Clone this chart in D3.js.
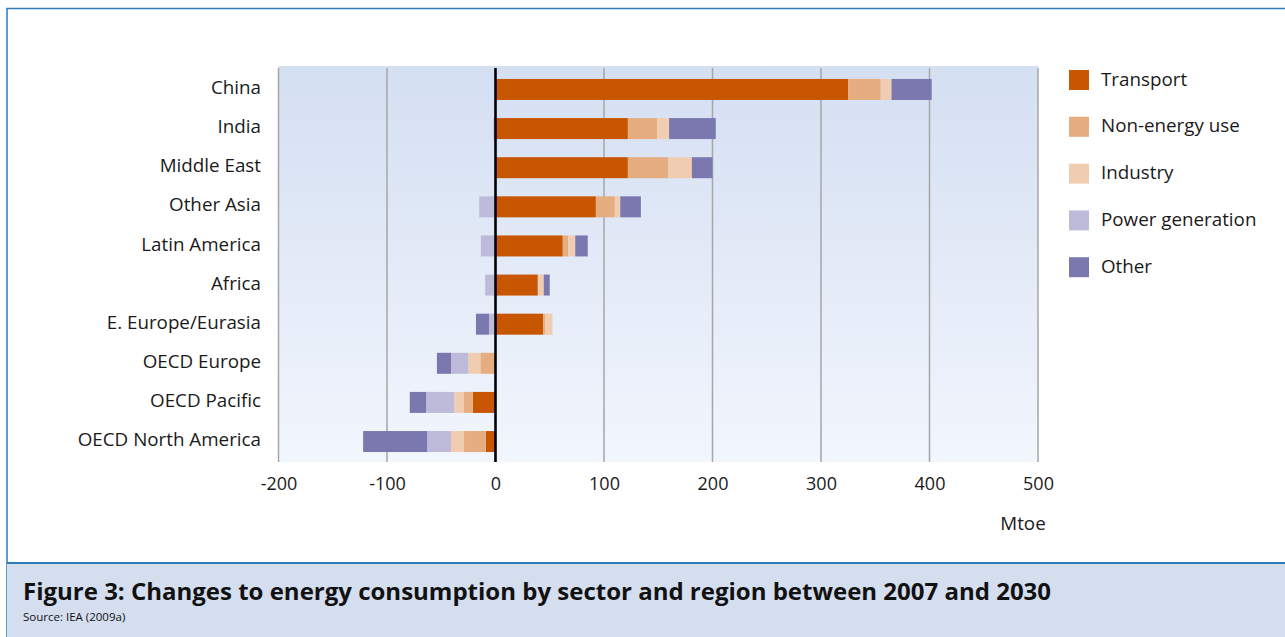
<!DOCTYPE html>
<html>
<head>
<meta charset="utf-8">
<script src="https://cdn.jsdelivr.net/npm/d3@7"></script>
<style>
  html, body { margin: 0; padding: 0; background: #fff; }
  svg { display: block; font-family: "Open Sans", "Noto Sans", sans-serif; }
</style>
</head>
<body>
<svg id="chart" width="1285" height="637"></svg>
<script>
// ---- data ----
const regions = ["China", "India", "Middle East", "Other Asia", "Latin America", "Africa",
  "E. Europe/Eurasia", "OECD Europe", "OECD Pacific", "OECD North America"];
const sectors = ["Transport", "Non-energy use", "Industry", "Power generation", "Other"];
const transport     = [325, 122, 122, 92.5, 62, 39, 44, 0, -21, -9];
const nonEnergy     = [30, 27, 37, 17.5, 5, 0, 2, -14, -8, -20];
const industry      = [10, 11, 22, 5, 6.5, 5.5, 6.5, -11, -9, -12];
const powerGen      = [0, -2, 0, -15, -13.5, -9.5, -6, -16, -26, -22];
const other         = [37, 43, 19, 19, 11.5, 5.5, -12, -13, -15, -59];
const xTicks = [-200, -100, 0, 100, 200, 300, 400, 500];
const xTickLabels = ["-200", "-100", "0", "100", "200", "300", "400", "500"];
const sectorColors = ["#c85500", "#e5ad80", "#f0cdb0", "#bdbbd9", "#7b78b0"];

const rows = regions.map((r, i) => ({
  region: r,
  "Transport": transport[i],
  "Non-energy use": nonEnergy[i],
  "Industry": industry[i],
  "Power generation": powerGen[i],
  "Other": other[i]
}));

const svg = d3.select("#chart");

// outer frame
svg.append("rect").attr("x", 7).attr("y", 8.5).attr("width", 1290).attr("height", 640)
  .attr("fill", "#fff").attr("stroke", "#2e7bb8").attr("stroke-width", 1.5);

// plot area
const plotTop = 66, plotBottom = 462;
const x = d3.scaleLinear().domain([-200, 500]).range([278.5, 1038]);
const y = d3.scaleBand().domain(regions).range([68, 463]).paddingInner(0.463).paddingOuter(0.28);
const color = d3.scaleOrdinal().domain(sectors).range(sectorColors);

const defs = svg.append("defs");
const grad = defs.append("linearGradient").attr("id", "bg").attr("x1", 0).attr("y1", 0).attr("x2", 0).attr("y2", 1);
grad.append("stop").attr("offset", "0%").attr("stop-color", "#d4dff2");
grad.append("stop").attr("offset", "100%").attr("stop-color", "#f2f6fd");

svg.append("rect").attr("x", x(-200)).attr("y", plotTop)
  .attr("width", x(500) - x(-200)).attr("height", plotBottom - plotTop)
  .attr("fill", "url(#bg)");

// gridlines
svg.append("g").selectAll("line").data(xTicks.filter(d => d !== 0)).join("line")
  .attr("x1", d => x(d)).attr("x2", d => x(d))
  .attr("y1", plotTop + 2).attr("y2", plotBottom)
  .attr("stroke", "#a6a6a6").attr("stroke-width", 1.5);

// stacked bars
const stack = d3.stack().keys(sectors).offset(d3.stackOffsetDiverging);
const series = stack(rows);
svg.append("g").selectAll("g").data(series).join("g")
  .attr("fill", d => color(d.key))
  .selectAll("rect").data(d => d).join("rect")
  .attr("x", d => x(Math.min(d[0], d[1])))
  .attr("width", d => Math.abs(x(d[1]) - x(d[0])))
  .attr("y", d => y(d.data.region))
  .attr("height", y.bandwidth());

// zero line
svg.append("line").attr("x1", x(0)).attr("x2", x(0))
  .attr("y1", plotTop + 2).attr("y2", plotBottom)
  .attr("stroke", "#000").attr("stroke-width", 2.6);

// category labels
svg.append("g").selectAll("text").data(regions).join("text")
  .attr("x", 261).attr("y", d => y(d) + y.bandwidth() / 2 - 2)
  .attr("dy", "0.35em").attr("text-anchor", "end")
  .attr("font-size", 18.8).attr("fill", "#1a1a1a").text(d => d);

// x axis labels
const xAxis = d3.axisBottom(x).tickValues(xTicks).tickSize(0).tickPadding(0)
  .tickFormat((d, i) => xTickLabels[i]);
const ax = svg.append("g").attr("transform", `translate(0,${plotBottom})`).call(xAxis);
ax.select(".domain").remove();
ax.selectAll("text").attr("y", 22).attr("dy", "0.35em")
  .attr("font-size", 18).attr("fill", "#1a1a1a")
  .attr("font-family", "'Open Sans', 'Noto Sans', sans-serif");

svg.append("text").attr("x", 1023).attr("y", 523).attr("dy", "0.35em")
  .attr("text-anchor", "middle").attr("font-size", 18.8).attr("fill", "#1a1a1a").text("Mtoe");

// legend
const legend = svg.append("g").selectAll("g").data(sectors).join("g")
  .attr("transform", (d, i) => `translate(1069,${70 + i * 46.8})`);
legend.append("rect").attr("width", 20).attr("height", 20).attr("fill", d => color(d));
legend.append("text").attr("x", 32).attr("y", 9).attr("dy", "0.35em")
  .attr("font-size", 18.8).attr("fill", "#1a1a1a").text(d => d);

// caption band
svg.append("rect").attr("x", 7).attr("y", 563).attr("width", 1285).attr("height", 80)
  .attr("fill", "#d4deef");
svg.append("line").attr("x1", 7).attr("x2", 1285).attr("y1", 563).attr("y2", 563)
  .attr("stroke", "#2e7bb8").attr("stroke-width", 2);
svg.append("text").attr("x", 23).attr("y", 600)
  .attr("font-size", 24).attr("font-weight", "bold").attr("fill", "#111")
  .attr("font-family", "'Open Sans', sans-serif").attr("letter-spacing", 0)
  .text("Figure 3: Changes to energy consumption by sector and region between 2007 and 2030");
svg.append("text").attr("x", 23).attr("y", 621)
  .attr("font-size", 11.5).attr("fill", "#111")
  .text("Source: IEA (2009a)");
</script>
</body>
</html>
